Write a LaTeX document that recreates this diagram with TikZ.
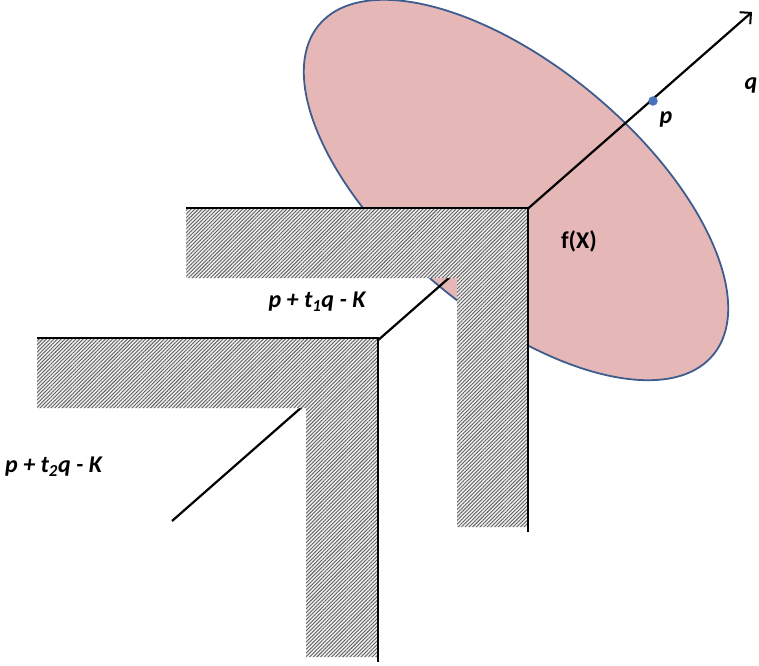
\documentclass[tikz,border=0pt]{standalone}
\usepackage{fontspec}
\setmainfont{Carlito}
\usetikzlibrary{patterns.meta,arrows.meta,shapes.geometric}
\definecolor{pinkfill}{RGB}{230,183,183}
\definecolor{ellborder}{RGB}{62,92,142}
\definecolor{dotblue}{RGB}{70,115,185}
\definecolor{hatchcol}{RGB}{95,95,95}
\begin{document}
\begin{tikzpicture}[x=1pt,y=1pt,
  hatched/.style={fill=gray!12,postaction={pattern={Lines[angle=45,distance=2.6pt,line width=0.9pt]},pattern color=hatchcol}},
  edgeline/.style={line width=2pt,black},
  ray/.style={line width=2.2pt,black,-{Straight Barb[length=8pt,width=16pt,line width=2pt]}},
  lbl/.style={font=\fontsize{24}{26}\selectfont\bfseries\itshape,inner sep=0pt},
  lblup/.style={font=\fontsize{24}{26}\selectfont\bfseries,inner sep=0pt},
]
\useasboundingbox (0,0) rectangle (759,-665);
% f(X)
\node[ellipse,draw=ellborder,line width=1.8pt,fill=pinkfill,inner sep=0pt,outer sep=0pt,
      minimum width=514pt,minimum height=246pt,rotate=-40] (fX) at (516,-190) {};
% ray
\coordinate (rs) at (172,-521);
\coordinate (rt) at (752,-12);
\draw[ray] (rs) -- (rt);
% cone 1: p + t1 q - K
\path[hatched] (186,-208) -- (528,-208) -- (528,-527) -- (457,-527) -- (457,-278) -- (186,-278) -- cycle;
\coordinate (c1a) at (186,-208);
\coordinate (c1) at (528,-208);
\coordinate (c1b) at (528,-532);
\draw[edgeline] (c1a) -- (c1) -- (c1b);
% cone 2: p + t2 q - K
\path[hatched] (37,-338) -- (378,-338) -- (378,-657) -- (306,-657) -- (306,-408) -- (37,-408) -- cycle;
\coordinate (c2a) at (37,-338);
\coordinate (c2) at (378,-338);
\coordinate (c2b) at (378,-662);
\draw[edgeline] (c2a) -- (c2) -- (c2b);
% point p
\node[circle,fill=dotblue,inner sep=0pt,minimum size=9.5pt] (p) at (653,-101) {};
% labels
\node[lbl] (lq) at (751,-85) {q};
\node[lbl] (lp) at (666,-119) {p};
\node[lblup] (lf) at (579,-241) {f(X)};
\node[lbl] (l1) at (317,-302) {p + t\textsubscript{1}q - K};
\node[lbl,anchor=west] (l2) at (5,-467) {p + t\textsubscript{2}q - K};
\end{tikzpicture}
\end{document}
